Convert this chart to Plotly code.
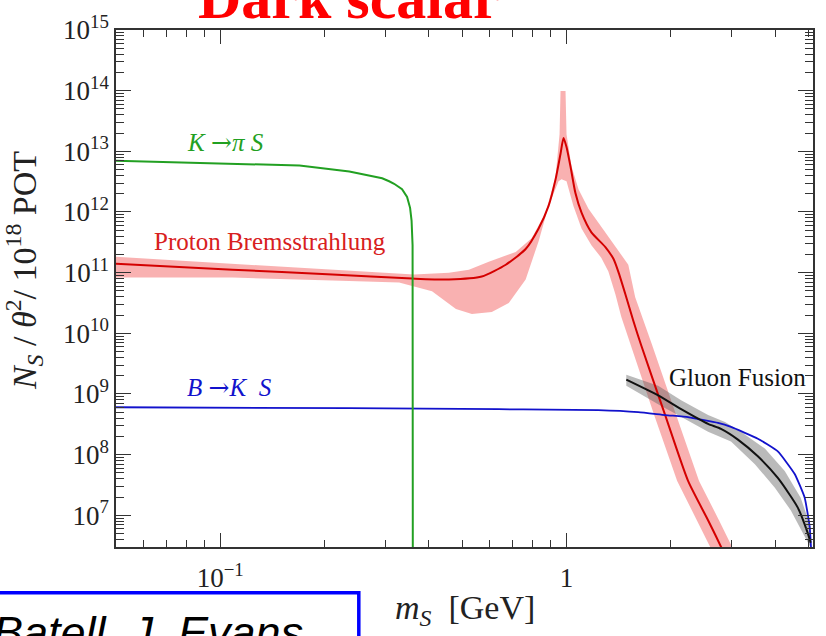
import math
import plotly.graph_objects as go

# ---------------- data ----------------
# K -> pi S (green)
kpi_m = [0.05, 0.1086, 0.1694, 0.2359, 0.2935, 0.3074, 0.3178, 0.3350, 0.3464, 0.3534,
         0.3569, 0.3593, 0.3600]
kpi_n = [7.02e12, 6.28e12, 5.82e12, 4.66e12, 3.59e12, 3.21e12, 2.92e12, 2.38e12, 1.77e12, 1.17e12,
         7.22e11, 2.84e11, 1.0e5]

# B -> K S (blue)
bks_m = [0.05, 0.2359, 0.637, 0.8875, 1.236, 1.611, 1.927, 2.244, 2.398, 2.738, 2.985, 3.569,
         4.076, 4.560, 4.873, 5.038, 5.104]
bks_n = [6.04e8, 5.82e8, 5.61e8, 5.51e8, 5.41e8, 5.01e8, 4.49e8, 4.16e8, 3.86e8, 3.33e8, 2.86e8, 1.83e8,
         1.13e8, 4.79e7, 1.95e7, 6.40e6, 1.87e6]

# Proton bremsstrahlung central curve (red)
brem_m = [0.05, 0.1086, 0.2107, 0.3581, 0.4575, 0.5693, 0.6677, 0.7621, 0.8307, 0.8875,
          0.9297, 0.9610, 0.9804, 1.0, 1.027, 1.061, 1.105, 1.180, 1.295, 1.366,
          1.411, 1.479, 1.559, 1.643, 1.927, 2.244, 2.563, 2.793, 3.024]
brem_n = [1.40e11, 1.12e11, 9.29e10, 8.00e10, 7.71e10, 8.61e10, 1.35e11, 2.45e11, 5.36e11, 1.26e12,
          3.45e12, 9.12e12, 1.66e13, 1.18e13, 5.61e12, 2.05e12, 9.73e11, 4.61e11, 2.64e11, 1.69e11,
          1.04e11, 4.41e10, 1.61e10, 6.34e9, 4.49e8, 3.69e7, 8.30e6, 3.03e6, 1.07e6]

# Proton bremsstrahlung uncertainty band
brem_hi_m = [0.05, 0.1086, 0.2107, 0.3628, 0.4575, 0.5224, 0.5963, 0.7134, 0.7931, 0.8700,
             0.9297, 0.9548, 0.9610, 0.9934, 1.000, 1.034, 1.083, 1.157, 1.295, 1.439,
             1.508, 1.579, 1.665, 1.768, 2.073, 2.414, 2.756, 3.005, 3.253]
brem_hi_n = [1.82e11, 1.40e11, 1.12e11, 9.29e10, 1.00e11, 1.12e11, 1.51e11, 2.19e11, 3.69e11, 9.73e11,
             3.86e12, 1.92e13, 9.91e13, 9.91e13, 1.92e13, 5.61e12, 2.38e12, 1.13e12, 4.61e11, 1.95e11,
             1.35e11, 3.94e10, 1.61e10, 6.34e9, 4.49e8, 3.69e7, 8.30e6, 3.03e6, 1.07e6]
brem_lo_m = [0.05, 0.1086, 0.2107, 0.3285, 0.4088, 0.4794, 0.5329, 0.6083, 0.6811, 0.7621,
             0.8307, 0.8875, 0.9484, 0.9674, 1.000, 1.047, 1.105, 1.180, 1.261, 1.321,
             1.384, 1.439, 1.528, 1.791, 2.087, 2.382, 2.597, 2.812]
brem_lo_n = [8.30e10, 8.30e10, 7.41e10, 6.89e10, 4.92e10, 2.52e10, 2.09e10, 2.25e10, 3.15e10, 7.71e10,
             3.30e11, 1.26e12, 3.21e12, 3.45e12, 3.21e12, 1.26e12, 5.36e11, 2.84e11, 1.75e11, 1.04e11,
             4.41e10, 1.87e10, 6.34e9, 4.49e8, 3.69e7, 8.30e6, 3.03e6, 1.07e6]

# Gluon fusion central curve (black) and band (gray)
glu_m = [1.488, 1.839, 2.143, 2.563, 2.793, 3.126, 3.569, 4.076, 4.651, 4.971, 5.070]
glu_n = [1.72e9, 9.46e8, 5.61e8, 3.21e8, 2.66e8, 1.77e8, 9.38e7, 4.12e7, 1.35e7, 5.12e6, 3.52e6]
glu_hi_m = [1.488, 1.839, 2.143, 2.563, 2.869, 3.189, 3.739, 4.268, 4.745, 5.070]
glu_hi_n = [2.07e9, 1.37e9, 7.85e8, 4.49e8, 3.45e8, 2.38e8, 1.26e8, 5.36e7, 1.95e7, 6.40e6]
glu_lo_m = [1.488, 1.839, 2.199, 2.563, 2.985, 3.499, 3.996, 4.441, 4.873, 5.070]
glu_lo_n = [1.37e9, 6.76e8, 3.86e8, 2.38e8, 1.64e8, 6.95e7, 2.84e7, 1.21e7, 4.41e6, 2.92e6]

# axis ticks
x_major = [0.1, 1]
x_major_text = ["10<sup>\u22121</sup>", "1"]
x_minor = [0.06, 0.07, 0.08, 0.09, 0.2, 0.3, 0.4, 0.5, 0.6, 0.7, 0.8, 0.9, 2, 3, 4, 5]
y_exponents = [7, 8, 9, 10, 11, 12, 13, 14, 15]
y_major = [10.0 ** e for e in y_exponents]
y_major_text = ["10<sup>%d</sup>" % e for e in y_exponents]
y_minor = [k * 10.0 ** e for e in range(6, 15) for k in range(2, 10) if k * 10.0 ** e >= 3e6]

# ---------------- figure ----------------
W, H = 826, 636
ML, MR, MT, MB = 116, 11, 21, 89
PW, PH = W - ML - MR, H - MT - MB


def px2x(p):
    return (p - ML) / PW


def py2y(p):
    return (H - MB - p) / PH


SERIF = "Liberation Serif"
ARROW = "<span style='font-family:DejaVu Serif'>\u2192</span>"
fig = go.Figure()

fig.add_trace(go.Scatter(
    x=brem_hi_m + brem_lo_m[::-1], y=brem_hi_n + brem_lo_n[::-1],
    fill="toself", fillcolor="rgba(240,60,60,0.40)", line=dict(width=0),
    mode="lines", hoverinfo="skip"))
fig.add_trace(go.Scatter(
    x=glu_hi_m + glu_lo_m[::-1], y=glu_hi_n + glu_lo_n[::-1],
    fill="toself", fillcolor="rgba(90,90,90,0.42)", line=dict(width=0),
    mode="lines", hoverinfo="skip"))
fig.add_trace(go.Scatter(x=brem_m, y=brem_n, mode="lines",
                         line=dict(color="#d40000", width=2, shape="spline", smoothing=0.6)))
fig.add_trace(go.Scatter(x=bks_m, y=bks_n, mode="lines",
                         line=dict(color="#1212cc", width=1.8, shape="spline", smoothing=0.4)))
fig.add_trace(go.Scatter(x=glu_m, y=glu_n, mode="lines",
                         line=dict(color="#111111", width=2, shape="spline", smoothing=0.6)))
fig.add_trace(go.Scatter(x=kpi_m, y=kpi_n, mode="lines",
                         line=dict(color="#22a022", width=2)))

axis_common = dict(
    type="log", showgrid=False, zeroline=False, showline=True,
    linecolor="#333333", linewidth=1.5, mirror="allticks",
    ticks="inside", tickcolor="#333333", tickwidth=1.3,
    tickfont=dict(family=SERIF, size=27, color="#222222"),
)
fig.update_xaxes(
    **axis_common,
    range=[math.log10(0.05), math.log10(5.15)],
    tickmode="array", tickvals=x_major, ticktext=x_major_text, ticklen=14,
    ticklabelstandoff=6,
    minor=dict(tickmode="array", tickvals=x_minor, ticks="inside", ticklen=7,
               tickwidth=1, tickcolor="#333333", showgrid=False),
)
fig.update_yaxes(
    **axis_common,
    range=[math.log10(3e6), 15],
    tickmode="array", tickvals=y_major, ticktext=y_major_text, ticklen=15,
    minor=dict(tickmode="array", tickvals=y_minor, ticks="inside", ticklen=8,
               tickwidth=1, tickcolor="#333333", showgrid=False),
)

annotations = [
    dict(text="<b>Dark scalar</b>", x=px2x(350), y=py2y(24), xanchor="center", yanchor="bottom",
         font=dict(family=SERIF, size=60, color="#ff0000")),
    dict(text="<i>K</i> " + ARROW + "<i>\u03c0 S</i>", x=px2x(226), y=py2y(135), xanchor="center", yanchor="middle",
         font=dict(family=SERIF, size=25, color="#22a022")),
    dict(text="Proton Bremsstrahlung", x=px2x(270), y=py2y(236), xanchor="center", yanchor="middle",
         font=dict(family=SERIF, size=25, color="#d82020")),
    dict(text="<i>B</i> " + ARROW + "<i>K&nbsp;&nbsp;S</i>", x=px2x(230), y=py2y(385), xanchor="center", yanchor="middle",
         font=dict(family=SERIF, size=25, color="#1212cc")),
    dict(text="Gluon Fusion", x=px2x(739), y=py2y(375), xanchor="center", yanchor="middle",
         font=dict(family=SERIF, size=25, color="#111111")),
    dict(text="<i>m<sub>S</sub></i>&nbsp;&nbsp;[GeV]", x=px2x(466), y=py2y(611), xanchor="center", yanchor="middle",
         font=dict(family=SERIF, size=34, color="#222222")),
    dict(text="<i>N<sub>S</sub></i> / <i>\u03b8</i><sup>2</sup>/ 10<sup>18</sup> POT", x=px2x(24), y=py2y(266),
         xanchor="center", yanchor="middle", textangle=-90,
         font=dict(family=SERIF, size=34, color="#222222")),
    dict(text="<i>Batell, J. Evans</i>", x=px2x(-9), y=py2y(606), xanchor="left", yanchor="top",
         font=dict(family="Liberation Sans", size=45, color="#000000")),
]
for a in annotations:
    a.update(xref="paper", yref="paper", showarrow=False)

fig.update_layout(
    width=W, height=H,
    margin=dict(l=ML, r=MR, t=MT, b=MB),
    paper_bgcolor="white", plot_bgcolor="white",
    showlegend=False,
    annotations=annotations,
    shapes=[dict(type="rect", xref="paper", yref="paper",
                 x0=px2x(-20), x1=px2x(359.5), y0=py2y(680), y1=py2y(593.5),
                 line=dict(color="#0000ff", width=3.5), fillcolor="rgba(0,0,0,0)", layer="above")],
)

fig.write_html("out.html")
